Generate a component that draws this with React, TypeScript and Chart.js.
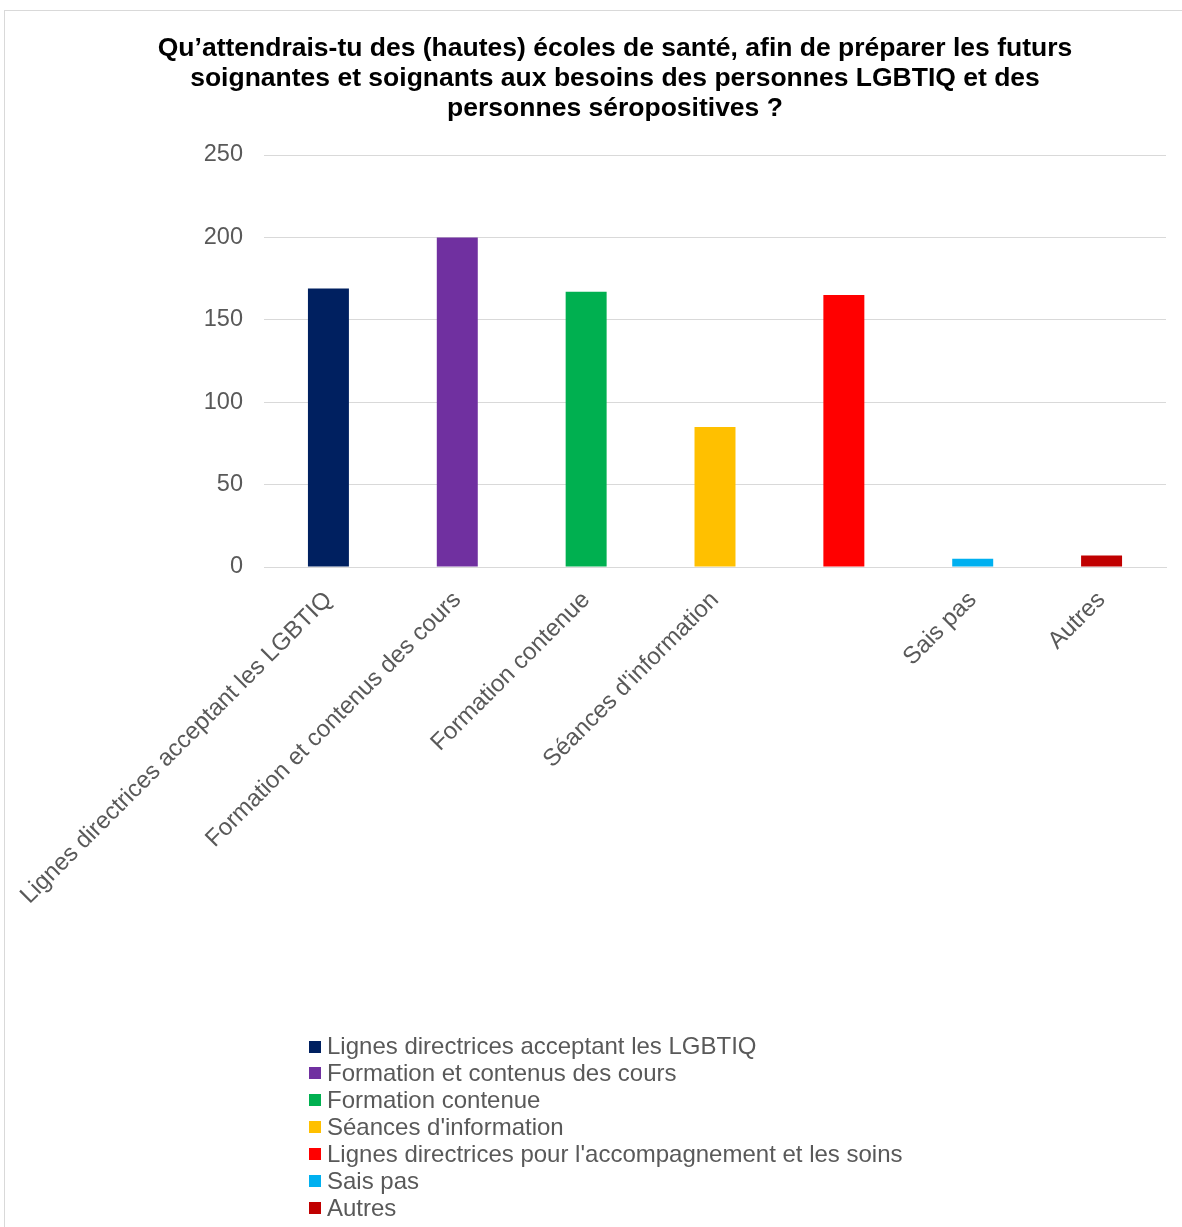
import React, { useEffect, useRef } from "react";
import { Chart, registerables } from "chart.js";

Chart.register(...registerables);

const TITLE_LINES = [
  "Qu’attendrais-tu des (hautes) écoles de santé, afin de préparer les futurs",
  "soignantes et soignants aux besoins des personnes LGBTIQ et des",
  "personnes séropositives ?",
];

const categories = [
  "Lignes directrices acceptant les LGBTIQ",
  "Formation et contenus des cours",
  "Formation contenue",
  "Séances d'information",
  "Lignes directrices pour l'accompagnement et les soins",
  "Sais pas",
  "Autres",
];

const values = [169, 200, 167, 85, 165, 5, 7];

const colors = ["#002060", "#7030A0", "#00B050", "#FFC000", "#FF0000", "#00B0F0", "#C00000"];

// x-axis label hidden in the original (too long to be displayed)
const hiddenTickIndex = [4];

const yTicks = [0, 50, 100, 150, 200, 250];

const FONT = "'Liberation Sans', Arial, sans-serif";
const TEXT_GREY = "#595959";
const GRID = "#d9d9d9";

const legendPlugin = {
  id: "stackedLegend",
  afterDraw(chart: any) {
    const ctx = chart.ctx;
    ctx.save();
    ctx.font = `24px ${FONT}`;
    ctx.textBaseline = "middle";
    ctx.textAlign = "left";
    const x0 = 304;
    const y0 = 1035.5;
    const step = 26.9;
    categories.forEach((label, i) => {
      const cy = y0 + i * step;
      ctx.fillStyle = colors[i];
      ctx.fillRect(x0, Math.round(cy - 6), 12, 12);
      ctx.fillStyle = TEXT_GREY;
      ctx.fillText(label, x0 + 18, cy + 1);
    });
    ctx.restore();
  },
};

export default function App() {
  const ref = useRef<HTMLCanvasElement | null>(null);

  useEffect(() => {
    if (!ref.current) return;
    Chart.defaults.font.family = FONT;
    const chart = new Chart(ref.current, {
      type: "bar",
      data: {
        labels: categories,
        datasets: [
          {
            label: "Réponses",
            data: values,
            backgroundColor: colors,
            borderWidth: 0,
            categoryPercentage: 1,
            barPercentage: 0.318,
          },
        ],
      },
      options: {
        responsive: false,
        animation: false,
        devicePixelRatio: 1,
        layout: { padding: { left: 59, right: 16, top: 0, bottom: 220 } },
        plugins: {
          legend: { display: false },
          tooltip: { enabled: false },
          title: {
            display: true,
            text: TITLE_LINES,
            color: "#000000",
            font: { family: FONT, size: 26.5, weight: "bold", lineHeight: 30 / 26.5 },
            padding: { top: 23, bottom: 31 },
          },
        },
        scales: {
          x: {
            grid: { display: false, drawTicks: false },
            border: { display: true, color: GRID, width: 1 },
            ticks: {
              color: TEXT_GREY,
              font: { family: FONT, size: 24 },
              minRotation: 45,
              maxRotation: 45,
              autoSkip: false,
              padding: 19,
              callback: (_v: any, i: number) => (hiddenTickIndex.includes(i) ? "" : categories[i]),
            },
            afterFit: (scale: any) => {
              scale.height = 440;
              scale.paddingLeft = 0;
              scale.paddingRight = 0;
            },
          },
          y: {
            min: 0,
            max: 250,
            grid: { color: GRID, lineWidth: 1, drawTicks: false },
            border: { display: false },
            ticks: {
              color: TEXT_GREY,
              font: { family: FONT, size: 23.5 },
              padding: 21,
              stepSize: 50,
              callback: (v: any) => (yTicks.includes(Number(v)) ? String(v) : ""),
            },
            afterFit: (scale: any) => {
              scale.width = 200;
            },
          },
        },
      },
      plugins: [legendPlugin],
    });
    return () => chart.destroy();
  }, []);

  return (
    <div
      style={{
        position: "absolute",
        left: 4,
        top: 10,
        width: 1178,
        height: 1217,
        boxSizing: "border-box",
        borderLeft: `1px solid ${GRID}`,
        borderTop: `1px solid ${GRID}`,
        background: "#ffffff",
        overflow: "hidden",
      }}
    >
      <canvas ref={ref} width={1177} height={1216} style={{ display: "block" }} />
    </div>
  );
}
